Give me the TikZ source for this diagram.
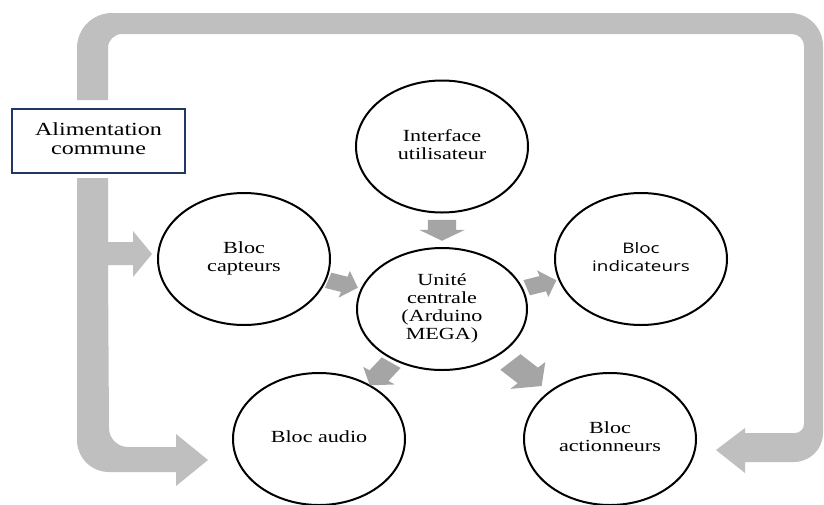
\documentclass[tikz,border=0pt]{standalone}
\usepackage{fontspec}
\setmainfont{Liberation Serif}
\newfontfamily\sansf{Open Sans}
\usepackage{graphicx}
\usetikzlibrary{shapes.geometric,calc}
\definecolor{loopgray}{HTML}{BFBFBF}
\definecolor{arrgray}{HTML}{A5A5A5}
\definecolor{boxblue}{HTML}{1F3864}
\newcommand\stx[1]{\scalebox{1.3}[1]{\begin{tabular}{@{}c@{}}#1\end{tabular}}}
% #1 position, #2 angle, #3 length, #4 shaft half width, #5 head half width, #6 head length
\newcommand\blockarr[6]{%
  \fill[smallarr, shift={#1}, xscale=1.3, rotate=#2]
    ({-#3/2},{-#4}) -- ({#3/2-#6},{-#4}) -- ({#3/2-#6},{-#5}) -- ({#3/2},0)
    -- ({#3/2-#6},{#5}) -- ({#3/2-#6},{#4}) -- ({-#3/2},{#4}) -- cycle;}
\tikzset{
  blob/.style={ellipse, draw=black, line width=2pt, fill=white,
    minimum width=172pt, minimum height=132pt, inner sep=0pt,
    font=\fontsize{17}{18}\selectfont},
  powerbox/.style={rectangle, draw=boxblue, line width=1.3pt, fill=white,
    minimum width=173pt, minimum height=64pt, inner sep=0pt,
    font=\fontsize{18.5}{19}\selectfont},
  bigarr/.style={fill=loopgray},
  smallarr/.style={fill=arrgray}
}
\begin{document}
\begin{tikzpicture}[x=1pt,y=-1pt]
\useasboundingbox (0,0) rectangle (824,504);
\fill[white] (0,0) rectangle (824,504);
\clip (0,0) rectangle (824,504);

% big power loop (top, right side, to Bloc actionneurs)
\fill[bigarr] (77,100) -- (77,48) arc[start angle=180, end angle=270, radius=35]
  -- (790,13) arc[start angle=270, end angle=360, radius=33]
  -- (823,433) arc[start angle=0, end angle=90, radius=29]
  -- (745,462) -- (745,473) -- (716,450) -- (745,428) -- (745,433)
  -- (795,433) arc[start angle=90, end angle=0, radius=9]
  -- (804,46) arc[start angle=0, end angle=-90, radius=12]
  -- (122,34) arc[start angle=270, end angle=180, radius=14]
  -- (108,100) -- cycle;

% lower left branch (to Bloc capteurs and Bloc audio)
\fill[bigarr] (77,178) -- (77,440) arc[start angle=180, end angle=90, radius=32]
  -- (176,472) -- (176,486) -- (208,460) -- (176,434) -- (176,447)
  -- (128,447) arc[start angle=90, end angle=180, radius=19]
  -- (108,265) -- (133,265) -- (133,277) -- (152,254) -- (133,231) -- (133,242)
  -- (108,242) -- (108,178) -- cycle;

\node[powerbox] (alim) at (98.5,141) {\stx{Alimentation\\commune}};

\node[blob] (interface) at (442,146.5) {\stx{Interface\\utilisateur}};
\node[blob] (capteurs) at (244,259) {\stx{Bloc\\capteurs}};
\node[blob, minimum width=170pt, minimum height=122pt] (unite) at (442,309)
  {\stx{Unité\\centrale\\(Arduino\\MEGA)}};
\node[blob, font=\sansf\fontsize{14.5}{18}\selectfont] (indicateurs) at (641,259)
  {\stx{Bloc\\indicateurs}};
\node[blob] (audio) at (319,439) {\stx{Bloc audio}};
\node[blob] (actionneurs) at (610,439) {\stx{Bloc\\actionneurs}};

% small arrows around the central unit
\blockarr{($(interface.south)!0.5!(unite.north)$)}{-90}{21}{10.8}{17.7}{11}
\blockarr{($(capteurs)!0.5!(unite)$)}{-18}{24}{8}{14}{11}
\blockarr{($(unite)!0.5!(indicateurs)$)}{18}{24}{8}{14}{11}
\blockarr{($(unite)!0.5!(audio)$)}{-126}{28}{9}{15}{12}
\blockarr{($(unite)!0.5!(actionneurs)$)}{-45}{34}{11}{19}{15}
\end{tikzpicture}
\end{document}
